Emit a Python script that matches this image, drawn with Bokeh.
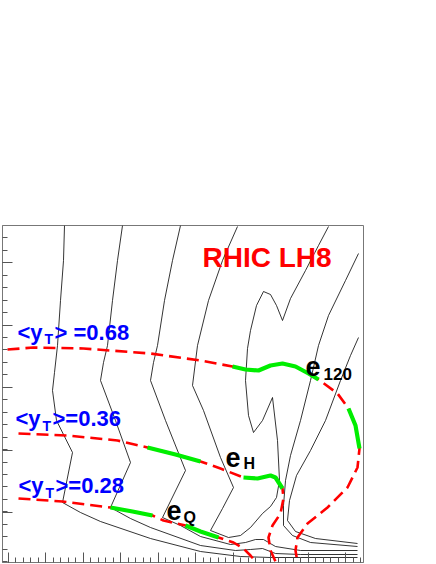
from bokeh.plotting import figure
from bokeh.models import Label, FixedTicker, CustomJSTickFormatter
from bokeh.embed import file_html
from bokeh.resources import INLINE

# ---- <y_T> curves (red dashed), in frame units ----
c068_x = [5, 31, 81, 148, 198, 230, 243, 256, 268, 280, 293, 306, 316, 335, 346, 353, 357, 355, 345, 325, 305, 295, 293, 295]
c068_y = [213, 215, 214, 209, 202, 196, 193, 192, 197, 199, 196, 189, 183, 169, 154, 137, 114, 95, 75, 55, 39, 25, 12, 0]
c068_green = [(5, 12), (14, 16)]

c036_x = [16, 65, 115, 145, 173, 198, 218, 241, 255, 268, 273, 280, 281, 278, 270, 266, 268, 273]
c036_y = [129, 127, 122, 115, 108, 101, 94, 85, 84, 87, 85, 74, 64, 49, 37, 25, 12, 1]
c036_green = [(3, 5), (7, 11)]

c028_x = [16, 60, 108, 130, 150, 161, 183, 198, 216, 231, 241, 248, 253]
c028_y = [64, 61, 55, 51, 47, 42, 37, 31, 25, 20, 14, 7, 1]
c028_green = [(2, 4), (6, 8)]

# ---- contour lines (black) ----
l1_x = [62, 61, 58, 55, 52, 50, 54, 70, 60, 78, 98, 148, 198, 238, 268, 298, 355]
l1_y = [337, 302, 262, 217, 190, 172, 142, 110, 60, 50, 41, 24, 11, 6, 5, 5, 5]
l2_x = [120, 115, 110, 105, 101, 98, 113, 128, 108, 128, 148, 198, 233, 248, 260, 273, 298, 355]
l2_y = [337, 302, 262, 217, 200, 182, 142, 100, 55, 44, 35, 17, 12, 13, 14, 9, 8, 8]
l3_x = [178, 170, 162, 155, 151, 148, 163, 183, 160, 178, 198, 228, 243, 253, 261, 273, 298, 355]
l3_y = [337, 302, 262, 217, 200, 182, 142, 92, 45, 37, 26, 18, 20, 23, 23, 16, 12, 12]
l4_x = [235, 220, 206, 195, 190, 201, 218, 231, 220, 208, 226, 238, 248, 260, 268, 274, 277, 275, 270, 260, 251, 246, 243, 245, 248, 254, 261, 268, 274, 280, 288, 303, 316, 326]
l4_y = [336, 302, 262, 217, 177, 152, 105, 75, 54, 32, 25, 27, 35, 49, 56, 65, 82, 122, 165, 142, 130, 147, 182, 214, 232, 257, 271, 268, 257, 242, 264, 292, 317, 336]
l6_x = [356, 343, 326, 316, 308, 298, 288, 283, 281, 281, 290, 308, 355]
l6_y = [309, 282, 247, 217, 182, 142, 107, 82, 57, 37, 27, 20, 16]
l7_x = [356, 348, 338, 323, 308, 294, 287, 285, 293, 313, 355]
l7_y = [225, 207, 182, 142, 112, 87, 62, 42, 31, 24, 19]
contours = [(l1_x, l1_y), (l2_x, l2_y), (l3_x, l3_y), (l4_x, l4_y), (l6_x, l6_y), (l7_x, l7_y)]

# ---- axis ticks (no labels) ----
x_major = [5.5 + 37.5 * k for k in range(10)]
x_minor = [-2 + 7.5 * k for k in range(49)]
y_major = [299.7 - 62.4 * k for k in range(5)]
y_minor = [324.6 - 12.45 * k for k in range(27)]

p = figure(frame_width=361, frame_height=337, x_range=(0, 361), y_range=(0, 337),
           output_backend="svg", toolbar_location=None,
           min_border_left=2, min_border_right=6, min_border_top=225, min_border_bottom=1)
p.grid.visible = False
p.background_fill_color = "white"
p.border_fill_color = "white"
p.outline_line_color = "#777777"
p.outline_line_width = 1

for ax, maj, mnr in ((p.xaxis[0], x_major, x_minor), (p.yaxis[0], y_major, y_minor)):
    ax.ticker = FixedTicker(ticks=maj, minor_ticks=mnr)
    ax.formatter = CustomJSTickFormatter(code="return '';")
    ax.major_label_text_color = None
    ax.major_tick_in = 10
    ax.major_tick_out = 0
    ax.minor_tick_in = 5
    ax.minor_tick_out = 0
    ax.major_tick_line_color = "#555555"
    ax.minor_tick_line_color = "#555555"
    ax.axis_line_color = "#777777"
    ax.major_label_standoff = 0

for xs, ys in contours:
    p.line(xs, ys, line_color="black", line_width=0.8)

for xs, ys, greens in ((c068_x, c068_y, c068_green), (c036_x, c036_y, c036_green), (c028_x, c028_y, c028_green)):
    p.line(xs, ys, line_color="#ff0000", line_width=2.6, line_dash="12 6")
    for a, b in greens:
        p.line(xs[a:b + 1], ys[a:b + 1], line_color="#00ee00", line_width=4.2)

def lab(x, y, t, size, color):
    p.add_layout(Label(x=x, y=y, text=t, text_font="Liberation Sans", text_font_style="bold",
                       text_font_size=size, text_color=color, text_baseline="alphabetic"))

lab(200, 305, "RHIC LH8", "28px", "#ff0000")
# <y_T> labels
lab(15, 230, "<y", "22px", "#0000ff"); lab(42, 224, "T", "14px", "#0000ff"); lab(52, 230, "> =0.68", "22px", "#0000ff")
lab(13, 144, "<y", "22px", "#0000ff"); lab(40, 137, "T", "14px", "#0000ff"); lab(50, 144, ">=0.36", "22px", "#0000ff")
lab(16, 77, "<y", "22px", "#0000ff"); lab(43, 70, "T", "14px", "#0000ff"); lab(53, 77, ">=0.28", "22px", "#0000ff")
# e labels
lab(303, 196, "e", "27px", "black"); lab(321, 189, "120", "17px", "black")
lab(223, 105, "e", "27px", "black"); lab(241, 99, "H", "16px", "black")
lab(164, 52, "e", "27px", "black"); lab(181, 45, "Q", "16px", "black")

open("out.html", "w").write(file_html(p, INLINE))
